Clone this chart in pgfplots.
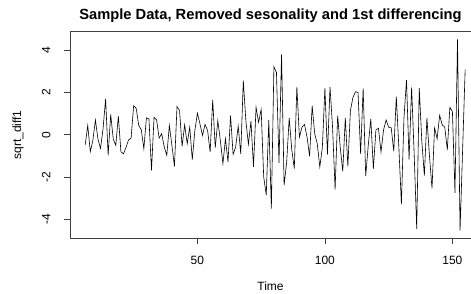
\documentclass[border=0pt]{standalone}
\usepackage{pgfplots}
\pgfplotsset{compat=1.18}
\usepackage{fontspec}
\setmainfont{Liberation Sans}
\begin{document}
\begin{tikzpicture}
\path[use as bounding box] (0,0) rectangle (471pt,294pt);
\begin{axis}[
  at={(70pt,55.7pt)}, anchor=south west,
  scale only axis, width=401pt, height=206.6pt,
  xmin=0.04, xmax=157.29, ymin=-4.90, ymax=4.88,
  xtick={50,100,150}, ytick={-4,-2,0,2,4},
  tick align=outside, major tick length=6pt,
  xtick pos=left, ytick pos=left,
  axis line style={draw=none},
  tick style={black!75, line width=0.7pt},
  ticklabel style={font=\fontsize{12}{14}\selectfont},
  /pgf/number format/assume math mode=true,
  xticklabel style={yshift=-8pt},
  yticklabel style={xshift=-10pt, rotate=90, anchor=south},
  title={Sample Data, Removed sesonality and 1st differencing},
  title style={at={(axis description cs:0.5,1.028)}, anchor=base, font=\fontsize{14.7}{17}\selectfont\bfseries},
  xlabel={Time},
  xlabel style={at={(axis description cs:0.5,-0.2527)}, anchor=base, font=\fontsize{12}{14}\selectfont},
  ylabel={sqrt\_diff1},
  ylabel style={at={(axis description cs:-0.1222,0.5)}, anchor=base, font=\fontsize{12}{14}\selectfont},
  clip=false,
]
\draw[black!75, line width=0.7pt] (rel axis cs:1.05,1) -- (rel axis cs:0,1) -- (rel axis cs:0,0) -- (rel axis cs:1.05,0);
\addplot[black, line width=0.6pt, mark=none] table {
x y
6 -0.47
7 0.44
8 -0.80
9 -0.27
10 0.70
11 -0.20
12 -0.65
13 0.28
14 1.70
15 -0.97
16 0.96
17 -0.20
18 -0.50
19 0.88
20 -0.80
21 -0.90
22 -0.60
23 -0.24
24 -0.16
25 1.38
26 1.25
27 0.44
28 0.24
29 -0.66
30 0.80
31 0.75
32 -1.68
33 0.83
34 0.70
35 -0.16
36 0.05
37 -0.58
38 -0.97
39 0.44
40 -0.50
41 -1.49
42 1.33
43 1.15
44 -0.55
45 0.47
46 -0.42
47 0.36
48 -1.18
49 0.20
50 1.02
51 0.52
52 -0.03
53 0.49
54 0.20
55 -0.82
56 1.65
57 -0.61
58 0.67
59 -0.27
60 -1.37
61 -0.19
62 -1.29
63 0.91
64 -0.93
65 -0.58
66 0.41
67 -0.90
68 2.56
69 0.67
70 -0.45
71 0.64
72 -1.52
73 1.30
74 0.59
75 1.20
76 -2.00
77 -2.85
78 0.70
79 -3.50
80 3.22
81 2.95
82 -1.33
83 3.81
84 -2.39
85 -1.30
86 0.80
87 -0.70
88 -1.60
89 2.27
90 -0.11
91 0.36
92 0.49
93 -0.11
94 -1.02
95 1.38
96 0.05
97 -0.42
98 -1.52
99 -0.60
100 2.21
101 -0.93
102 2.27
103 0.36
104 -2.59
105 0.91
106 -0.58
107 -1.73
108 0.80
109 -1.49
110 1.14
111 1.77
112 2.04
113 2.00
114 -0.90
115 2.20
116 -1.96
117 -0.50
118 0.75
119 -1.61
120 0.23
121 0.31
122 -0.82
123 0.23
124 0.70
125 0.36
126 0.33
127 -0.77
128 1.80
129 -0.60
130 -3.28
131 0.80
132 2.59
133 -1.17
134 2.24
135 -0.90
136 -4.45
137 2.21
138 -0.30
139 -1.93
140 0.80
141 -1.00
142 -2.54
143 0.33
144 -0.19
145 0.92
146 0.47
147 0.36
148 -0.71
149 1.30
150 1.10
151 -2.75
152 4.52
153 -4.54
154 -0.70
155 3.10
};
\end{axis}
\end{tikzpicture}
\end{document}
